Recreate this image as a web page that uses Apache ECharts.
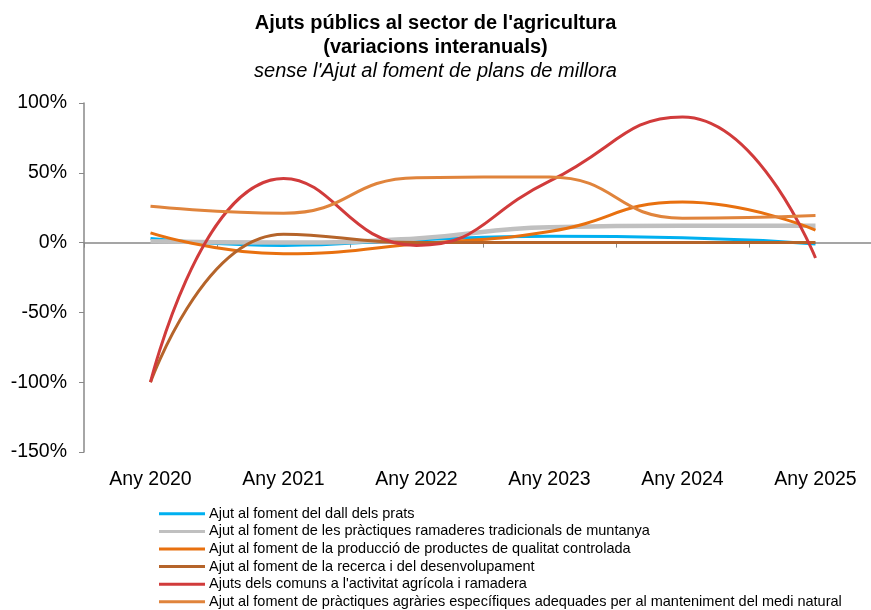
<!DOCTYPE html>
<html><head><meta charset="utf-8">
<script src="https://cdn.jsdelivr.net/npm/echarts@6/dist/echarts.min.js"></script>
<style>html,body{margin:0;padding:0;background:#fff}#c{width:871px;height:610px}</style>
</head><body><div id="c"></div>
<script>
const categories = ['Any 2020','Any 2021','Any 2022','Any 2023','Any 2024','Any 2025'];
const yTicks = [-150,-100,-50,0,50,100];
const seriesNames = [
  'Ajut al foment del dall dels prats',
  'Ajut al foment de les pràctiques ramaderes tradicionals de muntanya',
  'Ajut al foment de la producció de productes de qualitat controlada',
  'Ajut al foment de la recerca i del desenvolupament',
  "Ajuts dels comuns a l'activitat agrícola i ramadera",
  'Ajut al foment de pràctiques agràries específiques adequades per al manteniment del medi natural'
];
const dallPrats   = [3, -2, 2, 4.5, 3.5, -1];
const ramaderes   = [1, 0, 3, 11, 12, 12];
const qualitat    = [7, -8, -1, 8, 29, 9];
const recerca     = [-100, 6, 0, 0, 0, 0];
const comuns      = [-100, 46, -2, 44, 90, -11];
const mediNatural = [26, 21, 46.5, 47, 17.5, 19.5];
const colors = ['#00B0F0','#C0C0C0','#E8700F','#B5642A','#D13B3B','#E0843C'];

const dataSets = [dallPrats, ramaderes, qualitat, recerca, comuns, mediNatural];
const chart = echarts.init(document.getElementById('c'));
const font = 'Liberation Sans, Arial, sans-serif';
chart.setOption({
  animation: false,
  title: [
    {text: "Ajuts públics al sector de l'agricultura\n(variacions interanuals)", left: 'center', top: 6,
     padding: [5, 9, 5, 0],
     textStyle: {fontFamily: font, fontSize: 20, fontWeight: 'bold', color: '#000', lineHeight: 24}},
    {text: "sense l'Ajut al foment de plans de millora", left: 'center', top: 56,
     padding: [5, 9, 5, 0],
     textStyle: {fontFamily: font, fontSize: 20, fontStyle: 'italic', fontWeight: 'normal', color: '#000'}}
  ],
  grid: {left: 84, top: 103, bottom: 158, right: -11, outerBoundsMode: 'none', containLabel: false},
  legend: {
    orient: 'vertical', left: 159, top: 505, itemWidth: 46, itemHeight: 3, itemGap: 0,
    icon: 'rect', height: 200, padding: 0,
    textStyle: {fontFamily: font, fontSize: 14.5, lineHeight: 17.6, color: '#000', padding: [0,0,0,-1]},
    data: seriesNames
  },
  xAxis: [
    {type: 'category', data: categories, boundaryGap: true,
     axisLine: {onZero: true, lineStyle: {color: '#888', width: 1.5}},
     axisTick: {show: true, length: 5, lineStyle: {color: '#888'}},
     axisLabel: {show: false}, splitLine: {show: false}},
    {type: 'category', data: categories, position: 'bottom', boundaryGap: true,
     axisLine: {show: false}, axisTick: {show: false},
     axisLabel: {margin: 18, fontFamily: font, fontSize: 19.5, color: '#000'}}
  ],
  yAxis: {
    type: 'value', min: -150, max: 100, interval: 50,
    axisLine: {show: true, lineStyle: {color: '#888', width: 1.5}},
    axisTick: {show: true, length: 5, lineStyle: {color: '#888'}},
    splitLine: {show: false},
    axisLabel: {margin: 17, fontFamily: font, fontSize: 19.5, color: '#000',
      formatter: v => yTicks.includes(v) ? v + '%' : ''}
  },
  series: dataSets.map((d, i) => ({
    name: seriesNames[i], type: 'line', data: d, xAxisIndex: 0, smooth: 0.5,
    symbol: 'none', color: colors[i],
    lineStyle: {width: i === 1 ? 4.5 : 3, color: colors[i]},
    z: 2 + i
  }))
});
</script></body></html>
